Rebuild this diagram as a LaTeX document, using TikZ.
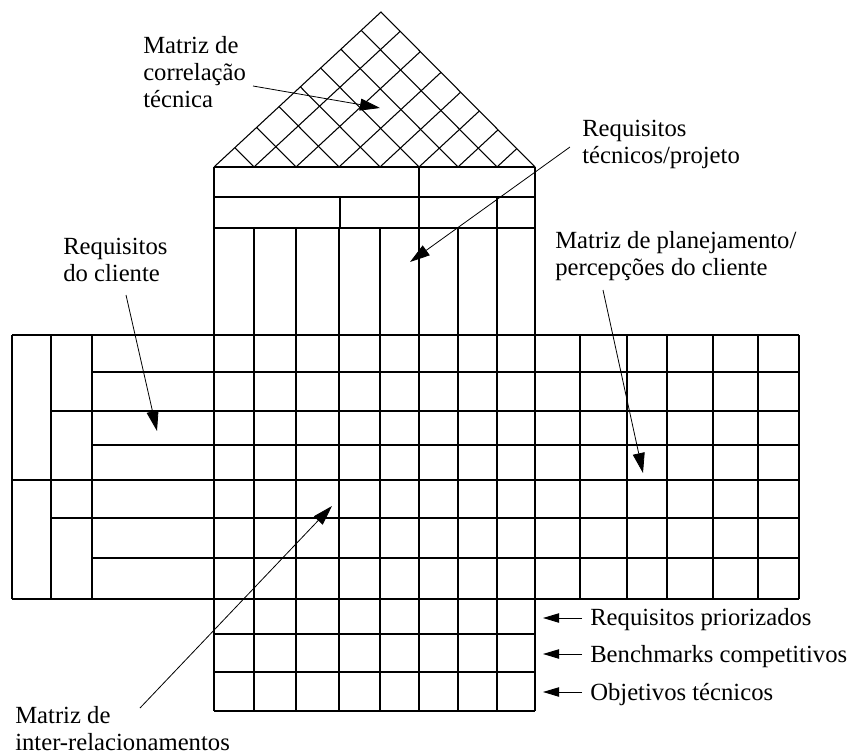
\documentclass[tikz,border=0pt]{standalone}
\usepackage{fontspec}
\setmainfont{Liberation Serif}
\usetikzlibrary{arrows.meta}
\begin{document}
\begin{tikzpicture}[x=0.75pt,y=-0.75pt,
  gridline/.style={line width=0.8pt, black},
  pointer/.style={line width=0.6pt, -{Triangle[length=15pt,width=9pt]}},
  smallpointer/.style={line width=0.7pt, -{Triangle[length=12pt,width=7pt]}},
  lbl/.style={font=\fontsize{18.5}{20.25}\selectfont, align=left, anchor=base west, inner sep=0pt}]
\path[use as bounding box] (0,0) rectangle (851,754);

% ---------- roof (correlation matrix) ----------
\draw[gridline] (214,167) -- (381,12) -- (535,167);
\foreach \b in {254,296,339,380,419,458,497}{
  \pgfmathsetmacro\tt{(535-\b)/321}
  \pgfmathsetmacro\uu{(\b-214)/321}
  \draw[gridline] (\b,167) -- ++(167*\tt,-155*\tt);
  \draw[gridline] (\b,167) -- ++(-154*\uu,-155*\uu);
}

% ---------- technical requirements column ----------
\draw[gridline] (214,167) -- (535,167);
\draw[gridline] (214,197) -- (535,197);
\draw[gridline] (214,228) -- (535,228);
\draw[gridline] (214,167) -- (214,711);
\draw[gridline] (535,167) -- (535,711);
\draw[gridline] (419,167) -- (419,228);
\draw[gridline] (340,197) -- (340,228);
\draw[gridline] (497,197) -- (497,228);
\foreach \c in {254,296,339,380,419,458,497}{
  \draw[gridline] (\c,228) -- (\c,711);
}

% ---------- main grid rows ----------
\draw[gridline] (12,335) -- (799,335);
\draw[gridline] (12,599) -- (799,599);
\foreach \r in {372,411,445,480,518,558}{
  \draw[gridline] (92,\r) -- (799,\r);
}
\draw[gridline] (51,411) -- (92,411);
\draw[gridline] (12,480) -- (92,480);
\draw[gridline] (51,518) -- (92,518);
\foreach \c in {12,51,92}{
  \draw[gridline] (\c,335) -- (\c,599);
}
\foreach \c in {580,627,667,713,758,799}{
  \draw[gridline] (\c,335) -- (\c,599);
}

% ---------- bottom rows ----------
\foreach \r in {634,672,711}{
  \draw[gridline] (214,\r) -- (535,\r);
}

% ---------- labels (anchor = baseline of last line) ----------
\node[lbl] (corr) at (143,107) {Matriz de\\correlação\\técnica};
\node[lbl] (tech) at (582,163) {Requisitos\\técnicos/projeto};
\node[lbl] (cust) at (63,281) {Requisitos\\do cliente};
\node[lbl] (plan) at (555,275) {Matriz de planejamento/\\percepções do cliente};
\node[lbl] (inter) at (15,750) {Matriz de\\inter-relacionamentos};
\node[lbl] (prio) at (590,625) {Requisitos priorizados};
\node[lbl] (bench) at (590,662) {Benchmarks competitivos};
\node[lbl] (obj) at (590,700) {Objetivos técnicos};

% ---------- pointer coordinates ----------
\coordinate (corrA) at (253,86);
\coordinate (corrB) at (380,108);
\coordinate (techA) at (570,147);
\coordinate (techB) at (410,262);
\coordinate (custA) at (126,295);
\coordinate (custB) at (157,431);
\coordinate (planA) at (603,290);
\coordinate (planB) at (643,473);
\coordinate (interA) at (140,708);
\coordinate (interB) at (332,506);
\coordinate (prioA) at (582,618);
\coordinate (prioB) at (543,618);
\coordinate (benchA) at (582,654);
\coordinate (benchB) at (543,654);
\coordinate (objA) at (582,692);
\coordinate (objB) at (543,692);

\draw[pointer] (corrA) -- (corrB);
\draw[pointer] (techA) -- (techB);
\draw[pointer] (custA) -- (custB);
\draw[pointer] (planA) -- (planB);
\draw[pointer] (interA) -- (interB);
\draw[smallpointer] (prioA) -- (prioB);
\draw[smallpointer] (benchA) -- (benchB);
\draw[smallpointer] (objA) -- (objB);
\end{tikzpicture}
\end{document}
